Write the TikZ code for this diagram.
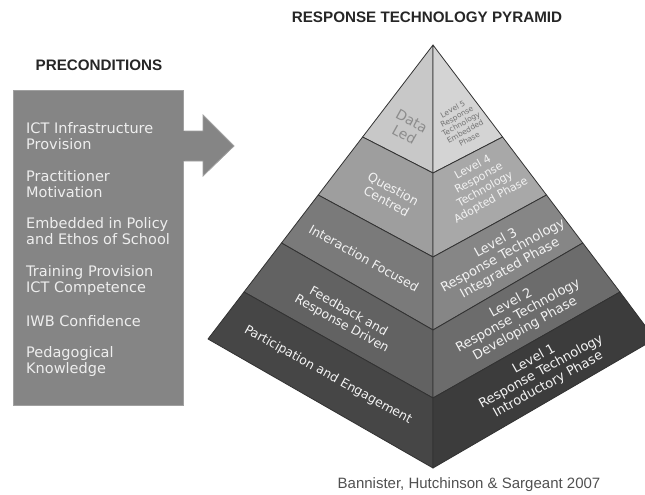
\documentclass[tikz,border=0pt]{standalone}
\usepackage{fontspec}
\setmainfont{DejaVu Sans}
\newfontfamily\headfont{Liberation Sans}
\definecolor{boxgray}{RGB}{133,133,133}
\definecolor{boxedge}{RGB}{160,160,160}
\definecolor{boxtext}{RGB}{238,238,238}
\definecolor{edgegray}{RGB}{50,50,50}
\definecolor{fiveL}{RGB}{200,200,200}
\definecolor{fiveR}{RGB}{212,212,212}
\definecolor{fourL}{RGB}{158,158,158}
\definecolor{fourR}{RGB}{168,168,168}
\definecolor{threeL}{RGB}{122,122,122}
\definecolor{threeR}{RGB}{134,134,134}
\definecolor{twoL}{RGB}{98,98,98}
\definecolor{twoR}{RGB}{108,108,108}
\definecolor{oneL}{RGB}{70,70,70}
\definecolor{oneR}{RGB}{60,60,60}
\definecolor{pyrtext}{RGB}{242,242,242}
\definecolor{credit}{RGB}{80,80,80}
\begin{document}
\begin{tikzpicture}[x=1pt,y=-1pt,
  face/.style={draw=edgegray,line width=0.8pt,line join=round},
  itemtext/.style={anchor=west,align=left,inner sep=0pt,text=boxtext,
    font=\fontsize{14.5}{16}\selectfont},
  lefttext/.style={align=center,inner sep=0pt,text=pyrtext,rotate=-29,
    font=\fontsize{12.5}{14}\selectfont},
  righttext/.style={align=center,inner sep=0pt,text=pyrtext,rotate=29,
    font=\fontsize{13}{14.5}\selectfont},
  heading/.style={inner sep=0pt,text=black!85,font=\headfont\bfseries\fontsize{15.2}{17}\selectfont}]
\useasboundingbox (0,0) rectangle (645,495);

% pyramid corner points
\coordinate (A)  at (433,45);
\coordinate (L1) at (362.6,137);
\coordinate (L2) at (318.2,195);
\coordinate (L3) at (281.5,243);
\coordinate (L4) at (244,292);
\coordinate (L5) at (208,339);
\coordinate (R1) at (502.6,137);
\coordinate (R2) at (546.5,195);
\coordinate (R3) at (582.8,243);
\coordinate (R4) at (620,292);
\coordinate (R5) at (655,339);
\coordinate (C1) at (433,173);
\coordinate (C2) at (433,257);
\coordinate (C3) at (433,330);
\coordinate (C4) at (433,398);
\coordinate (C5) at (433,468);

\begin{scope}
\clip (0,0) rectangle (645,495);
% level 5
\filldraw[face,fill=fiveL] (A) -- (L1) -- (C1) -- cycle;
\filldraw[face,fill=fiveR] (A) -- (C1) -- (R1) -- cycle;
% level 4
\filldraw[face,fill=fourL] (L1) -- (L2) -- (C2) -- (C1) -- cycle;
\filldraw[face,fill=fourR] (C1) -- (C2) -- (R2) -- (R1) -- cycle;
% level 3
\filldraw[face,fill=threeL] (L2) -- (L3) -- (C3) -- (C2) -- cycle;
\filldraw[face,fill=threeR] (C2) -- (C3) -- (R3) -- (R2) -- cycle;
% level 2
\filldraw[face,fill=twoL] (L3) -- (L4) -- (C4) -- (C3) -- cycle;
\filldraw[face,fill=twoR] (C3) -- (C4) -- (R4) -- (R3) -- cycle;
% level 1
\filldraw[face,fill=oneL] (L4) -- (L5) -- (C5) -- (C4) -- cycle;
\filldraw[face,fill=oneR] (C4) -- (C5) -- (R5) -- (R4) -- cycle;
\end{scope}

% left faces: focus of each level
\node[lefttext,text=black!45,font=\fontsize{14}{15.5}\selectfont] (dataled) at (408,128) {Data\\Led};
\node[lefttext] (question) at (390,195) {Question\\Centred};
\node[lefttext] (interaction) at (364,258) {Interaction Focused};
\node[lefttext] (feedback) at (345,318) {Feedback and\\Response Driven};
\node[lefttext] (participation) at (328,375) {Participation and Engagement};

% right faces: level and phase
\node[righttext,text=black!55,font=\fontsize{7.5}{8.5}\selectfont] (lvfive) at (461,124)
  {Level 5\\Response\\Technology\\Embedded\\Phase};
\node[righttext,font=\fontsize{11}{12.5}\selectfont] (lvfour) at (482,184)
  {Level 4\\Response\\Technology\\Adopted Phase};
\node[righttext] (lvthree) at (503,256) {Level 3\\Response Technology\\Integrated Phase};
\node[righttext] (lvtwo) at (518,316) {Level 2\\Response Technology\\Developing Phase};
\node[righttext] (lvone) at (541,372) {Level 1\\Response Technology\\Introductory Phase};

% preconditions box and arrow
\filldraw[fill=boxgray,draw=boxedge,line width=0.8pt] (13,90) rectangle (183,405);
\filldraw[fill=boxgray,draw=boxedge,line width=0.8pt,line join=miter]
  (183,131) -- (203,131) -- (203,115) -- (234,146) -- (203,176) -- (203,161) -- (183,161);
\fill[boxgray] (181,131.4) rectangle (184.5,160.6);

\node[itemtext] (ict) at (26,136) {ICT Infrastructure\\Provision};
\node[itemtext] (motivation) at (26,184.5) {Practitioner\\Motivation};
\node[itemtext] (policy) at (26,231.5) {Embedded in Policy\\and Ethos of School};
\node[itemtext] (training) at (26,280) {Training Provision\\ICT Competence};
\node[itemtext] (iwb) at (26,321) {IWB Confidence};
\node[itemtext] (pedagogy) at (26,361) {Pedagogical\\Knowledge};

% headings and credit
\node[heading] (pretitle) at (99,65) {PRECONDITIONS};
\node[heading] (pyrtitle) at (427,17) {RESPONSE TECHNOLOGY PYRAMID};
\node[inner sep=0pt,text=credit,font=\headfont\fontsize{15}{17}\selectfont] (credits) at (469,485)
  {Bannister, Hutchinson \& Sargeant 2007};
\end{tikzpicture}
\end{document}
